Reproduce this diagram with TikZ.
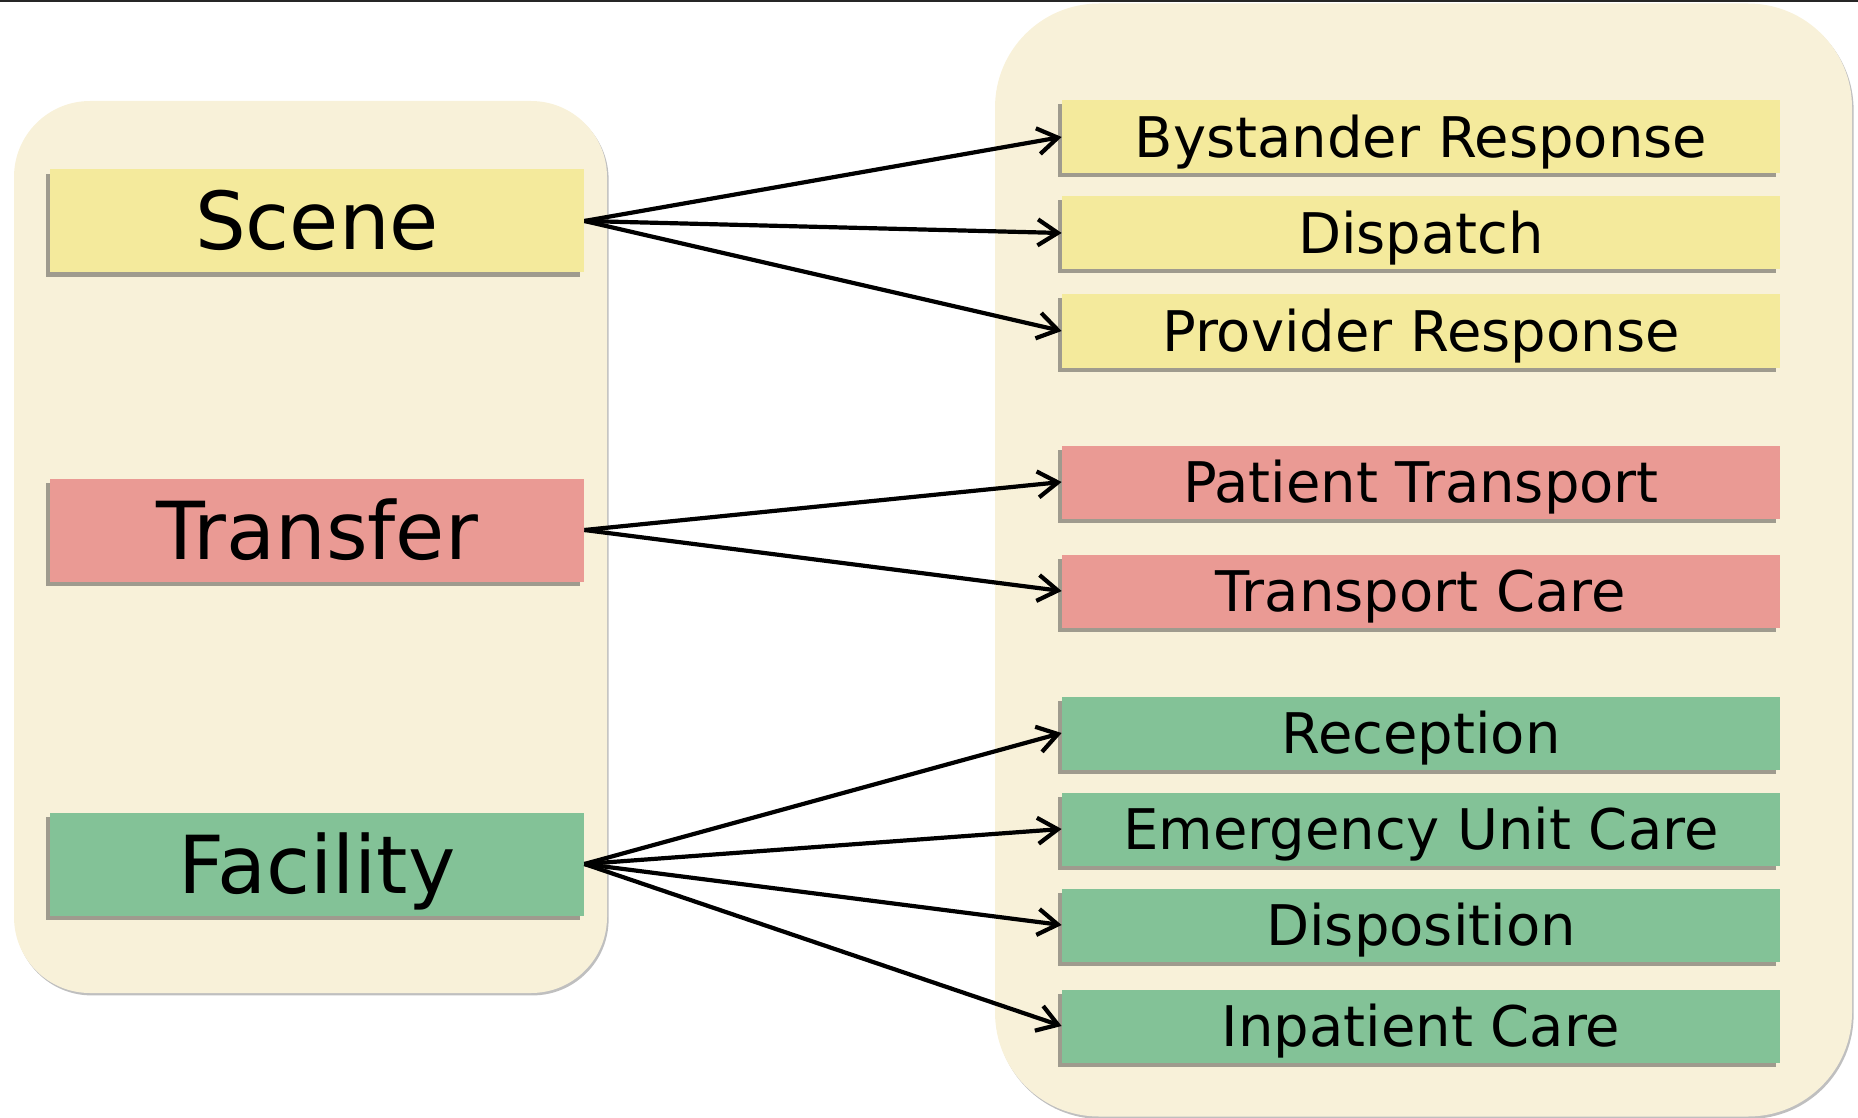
\documentclass[tikz,border=0pt]{standalone}
\usepackage{fontspec}
\setmainfont{DejaVu Sans}
\usetikzlibrary{shapes,shadows,arrows.meta}

\definecolor{panelbg}{HTML}{F8F1D9}
\definecolor{scenecol}{HTML}{F4EA9C}
\definecolor{transfercol}{HTML}{EA9A94}
\definecolor{facilitycol}{HTML}{83C297}

\begin{document}
\begin{tikzpicture}[x=0.5pt,y=-0.5pt,
  		panel/.style={rectangle,fill=panelbg,inner sep=0pt,
    		drop shadow={shadow xshift=.8pt,shadow yshift=-1.2pt,opacity=.25,fill=black}},
  		phase/.style={rectangle,inner sep=0pt,minimum width=267pt,minimum height=51.5pt,
    		text height=29pt,text depth=0pt,font=\fontsize{40}{48}\selectfont,
    		drop shadow={shadow xshift=-2.2pt,shadow yshift=-2.2pt,opacity=.45,fill=black!80}},
  		stepbox/.style={rectangle,inner sep=0pt,minimum width=359pt,minimum height=36.5pt,
    		text height=20.4pt,text depth=0pt,font=\fontsize{28}{34}\selectfont,
    		drop shadow={shadow xshift=-2pt,shadow yshift=-2pt,opacity=.45,fill=black!80}},
  		conn/.style={line width=2.1pt,-{Straight Barb[length=10pt,width=13pt,line width=2.1pt]}}]
    		\useasboundingbox (0,0) rectangle (1858,1118);
    		% Top rule
    		\coordinate (ruleL) at (0,1);
    		\coordinate (ruleR) at (1858,1);
    		\draw[line width=1pt,black!85] (ruleL) -- (ruleR);
    		% Panels
      		\node[panel,rounded corners=38pt,minimum width=296.5pt,minimum height=446pt] (lpanel) at (310.5,547) {};
      		\node[panel,rounded corners=52pt,minimum width=428.5pt,minimum height=556.5pt] (rpanel) at (1423.5,560) {};
    		% Phases
      		\node[phase,fill=scenecol] (scene) at (317,221) {Scene};
      		\node[phase,fill=transfercol] (transfer) at (317,530) {Transfer};
      		\node[phase,fill=facilitycol] (facility) at (317,864) {Facility};
    		% Steps of each phase
      		\node[stepbox,fill=scenecol] (bystander) at (1421,137) {Bystander Response};
      		\node[stepbox,fill=scenecol] (dispatch) at (1421,233) {Dispatch};
      		\node[stepbox,fill=scenecol] (provider) at (1421,331) {Provider Response};
      		\node[stepbox,fill=transfercol] (ptransport) at (1421,482) {Patient Transport};
      		\node[stepbox,fill=transfercol] (tcare) at (1421,591) {Transport Care};
      		\node[stepbox,fill=facilitycol] (reception) at (1421,733) {Reception};
      		\node[stepbox,fill=facilitycol] (eucare) at (1421,829) {Emergency Unit Care};
      		\node[stepbox,fill=facilitycol] (disposition) at (1421,925) {Disposition};
      		\node[stepbox,fill=facilitycol] (inpatient) at (1421,1026) {Inpatient Care};
    		% Connectors
      		\foreach \s in {bystander,dispatch,provider}
        		\draw[conn] (scene.east) -- (\s.west);
      		\foreach \s in {ptransport,tcare}
        		\draw[conn] (transfer.east) -- (\s.west);
      		\foreach \s in {reception,eucare,disposition,inpatient}
        		\draw[conn] (facility.east) -- (\s.west);
	\end{tikzpicture}
\end{document}
